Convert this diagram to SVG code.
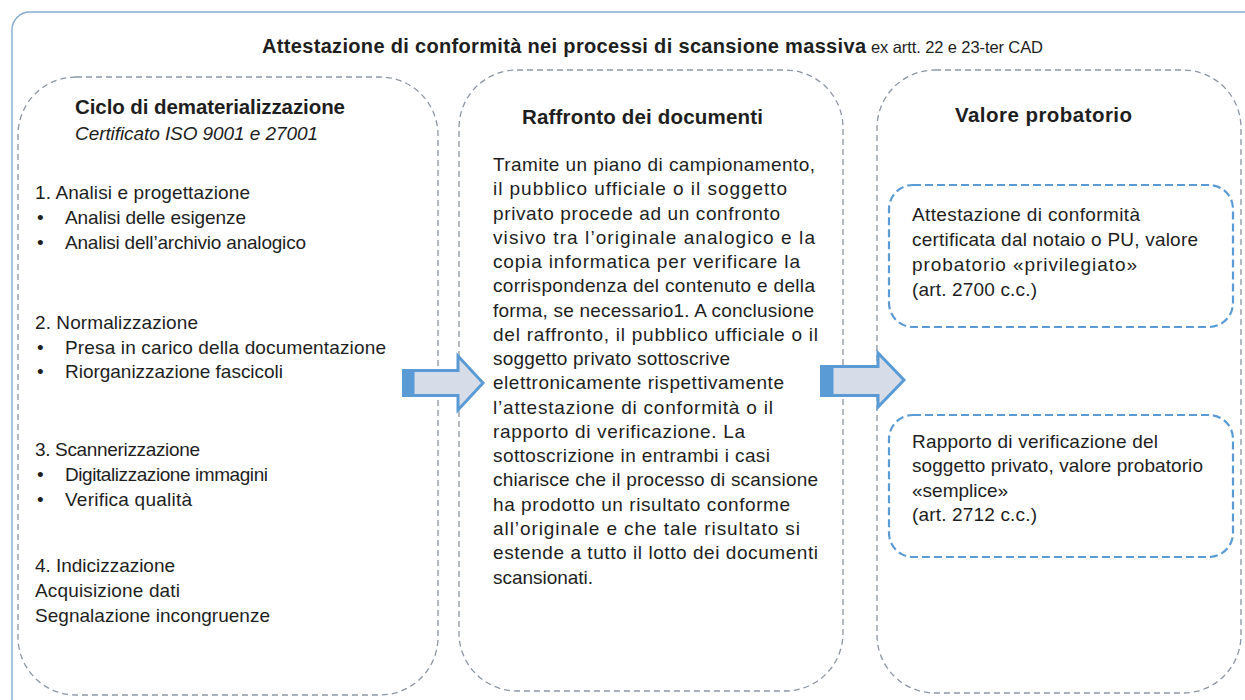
<svg xmlns="http://www.w3.org/2000/svg" width="1245" height="700" viewBox="0 0 1245 700">
<style>
text{font-family:"Liberation Sans",Arial,sans-serif;fill:#1e1e1e;font-size:19px}
.h{font-weight:bold;font-size:20.5px}
.panel{fill:none;stroke:#8c96a2;stroke-width:1.3;stroke-dasharray:6 4}
.box{fill:none;stroke:#5b9bd5;stroke-width:2.2;stroke-dasharray:8 4}
.arr{fill:#d6dde8;stroke:#5b9bd5;stroke-width:3;stroke-linejoin:miter}
.stripe{fill:#5b9bd5}
</style>
<rect width="1245" height="700" fill="#ffffff"/>
<rect x="12" y="12" width="1262" height="730" rx="18" fill="none" stroke="#86acd0" stroke-width="1.5"/>
<g id="title">
<text x="262" y="53"><tspan font-weight="bold" font-size="20" textLength="604">Attestazione di conformità nei processi di scansione massiva</tspan><tspan x="871" font-size="16.5" textLength="172">ex artt. 22 e 23-ter CAD</tspan></text>
</g>
<g id="node-ciclo">
<rect class="panel" x="18" y="77" width="420" height="618" rx="58"/>
<text class="h" x="75" y="114" font-size="21.5" textLength="270">Ciclo di dematerializzazione</text>
<text x="75" y="140" font-style="italic" textLength="243">Certificato ISO 9001 e 27001</text>
<text x="35" y="199" textLength="215">1. Analisi e progettazione</text>
<text x="37" y="224">•</text><text x="65" y="224" textLength="181">Analisi delle esigenze</text>
<text x="37" y="249">•</text><text x="65" y="249" textLength="241">Analisi dell’archivio analogico</text>
<text x="35" y="329" textLength="163">2. Normalizzazione</text>
<text x="37" y="354">•</text><text x="65" y="354" textLength="321">Presa in carico della documentazione</text>
<text x="37" y="378">•</text><text x="65" y="378" textLength="218">Riorganizzazione fascicoli</text>
<text x="35" y="456" textLength="165">3. Scannerizzazione</text>
<text x="37" y="481">•</text><text x="65" y="481" textLength="203">Digitalizzazione immagini</text>
<text x="37" y="506">•</text><text x="65" y="506" textLength="127">Verifica qualità</text>
<text x="35" y="572" textLength="140">4. Indicizzazione</text>
<text x="35" y="597" textLength="145">Acquisizione dati</text>
<text x="35" y="622" textLength="235">Segnalazione incongruenze</text>
</g>
<g id="node-raffronto">
<rect class="panel" x="459" y="70" width="384" height="621" rx="58"/>
<text class="h" x="522" y="124" textLength="241">Raffronto dei documenti</text>
<text x="493" y="171" textLength="322">Tramite un piano di campionamento,</text>
<text x="493" y="195" textLength="294">il pubblico ufficiale o il soggetto</text>
<text x="493" y="220" textLength="287">privato procede ad un confronto</text>
<text x="493" y="244" textLength="322">visivo tra l’originale analogico e la</text>
<text x="493" y="268" textLength="307">copia informatica per verificare la</text>
<text x="493" y="292" textLength="322">corrispondenza del contenuto e della</text>
<text x="493" y="317" textLength="321">forma, se necessario1. A conclusione</text>
<text x="493" y="341" textLength="325">del raffronto, il pubblico ufficiale o il</text>
<text x="493" y="365" textLength="237">soggetto privato sottoscrive</text>
<text x="493" y="389" textLength="291">elettronicamente rispettivamente</text>
<text x="493" y="414" textLength="280">l’attestazione di conformità o il</text>
<text x="493" y="438" textLength="252">rapporto di verificazione. La</text>
<text x="493" y="462" textLength="277">sottoscrizione in entrambi i casi</text>
<text x="493" y="486" textLength="325">chiarisce che il processo di scansione</text>
<text x="493" y="511" textLength="297">ha prodotto un risultato conforme</text>
<text x="493" y="535" textLength="307">all’originale e che tale risultato si</text>
<text x="493" y="559" textLength="325">estende a tutto il lotto dei documenti</text>
<text x="493" y="584" textLength="100">scansionati.</text>
</g>
<g id="node-valore">
<rect class="panel" x="877" y="70" width="364" height="623" rx="58"/>
<text class="h" x="955" y="122" textLength="177">Valore probatorio</text>
</g>
<g id="node-privilegiato">
<rect class="box" x="889" y="185" width="344" height="142" rx="24"/>
<text x="912" y="221" textLength="228">Attestazione di conformità</text>
<text x="912" y="246" textLength="286">certificata dal notaio o PU, valore</text>
<text x="912" y="271" textLength="225">probatorio «privilegiato»</text>
<text x="912" y="296" textLength="125">(art. 2700 c.c.)</text>
</g>
<g id="node-semplice">
<rect class="box" x="889" y="415" width="344" height="142" rx="24"/>
<text x="912" y="448" textLength="246">Rapporto di verificazione del</text>
<text x="912" y="472" textLength="291">soggetto privato, valore probatorio</text>
<text x="912" y="497">«semplice»</text>
<text x="912" y="521" textLength="125">(art. 2712 c.c.)</text>
</g>
<g id="connectors">
<rect class="stripe" x="402" y="369" width="11" height="28"/>
<polygon class="arr" points="413,370.5 458,370.5 458,356 483,383 458,410 458,395.5 413,395.5"/>
<rect class="stripe" x="820" y="365" width="12" height="32"/>
<polygon class="arr" points="832,366.5 878,366.5 878,353 904,380 878,407 878,395.5 832,395.5"/>
</g>
</svg>
